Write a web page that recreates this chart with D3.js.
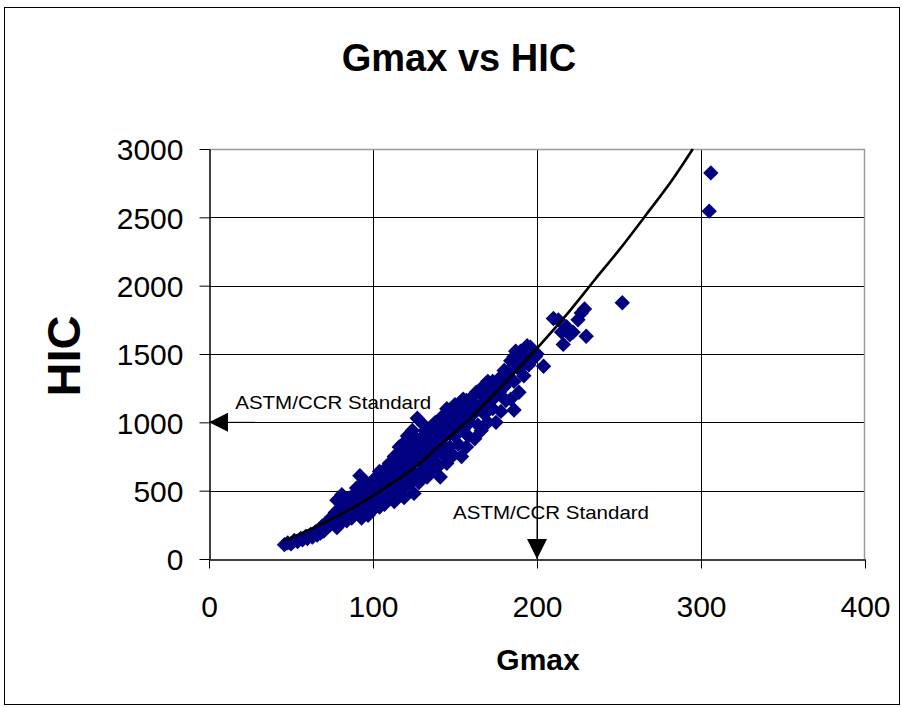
<!DOCTYPE html>
<html>
<head>
<meta charset="utf-8">
<script src="https://cdn.jsdelivr.net/npm/d3@7"></script>
<style>
  body { margin: 0; background: #fff; }
  text { font-family: Arial, "Liberation Sans", sans-serif; }
</style>
</head>
<body>
<div id="chart"></div>
<script>
// axis ticks
const X_TICKS = [0, 100, 200, 300, 400];
const Y_TICKS = [0, 500, 1000, 1500, 2000, 2500, 3000];

// test results: [Gmax, HIC]
const TESTS = [
  [46,105],[48,118],[50,112],[52,135],[54,128],[56,150],[57,140],[59,165],[60,150],[62,180],
  [63,160],[65,200],[66,175],[67,215],[68,190],[69,240],[70,205],[71,260],[72,230],[73,280],
  [74,250],[75,310],[76,270],[77,340],[78,230],[78,430],[79,300],[80,360],[80,260],[81,470],
  [82,330],[83,390],[84,280],[84,440],[85,350],[86,410],[87,300],[88,470],[88,380],[89,330],
  [90,520],[90,420],[91,360],[92,610],[92,460],[93,300],[94,400],[94,500],[95,350],[96,560],
  [96,450],[97,320],[98,480],[99,400],[100,530],[100,360],[101,460],[102,600],[103,420],[104,380],
  [105,520],[106,470],[106,640],[107,400],[108,560],[109,480],[110,700],[110,440],[111,600],[112,520],
  [113,750],[113,420],[114,650],[115,560],[116,480],[116,820],[117,700],[118,600],[119,450],[120,760],
  [120,530],[121,900],[122,650],[123,560],[124,940],[124,700],[125,480],[126,800],[126,620],[127,1030],
  [128,720],[128,560],[129,880],[130,650],[130,780],[131,980],[132,700],[133,600],[133,860],[134,760],
  [135,920],[136,650],[136,820],[137,720],[138,1000],[138,880],[139,780],[140,680],[140,940],[141,600],
  [141,840],[142,1040],[143,760],[144,900],[145,700],[145,1100],[146,980],[147,820],[148,1060],[149,760],
  [150,900],[150,1130],[151,980],[152,840],[153,1060],[154,750],[155,1170],[155,950],[156,1040],[157,820],
  [158,1120],[158,900],[159,1000],[160,1180],[161,1060],[162,880],[163,1220],[164,980],[165,1120],[166,940],
  [167,1260],[168,1060],[169,1180],[170,1300],[170,1000],[171,1120],[172,1240],[173,1100],[174,1180],[175,1000],
  [176,1300],[177,1220],[178,1080],[179,1340],[180,1260],[181,1160],[183,1380],[184,1170],[185,1440],[186,1090],
  [186,1300],[187,1520],[188,1400],[189,1220],[190,1520],[191,1460],[192,1340],[194,1560],[195,1420],[198,1520],
  [199,1480],[204,1410],[213,1750],[216,1570],[218,1700],[220,1640],[222,1660],[227,1800],[229,1830],[230,1630],
  [252,1875],[305,2545],[306,2825],
  [64,185],[70,240],[74,290],[76,300],[79,350],[82,400],[85,430],[86,380],[89,450],[91,500],
  [93,540],[95,470],[97,520],[99,560],[101,520],[103,570],[104,640],[107,600],[109,650],[111,680],
  [112,580],[114,720],[115,640],[117,780],[118,840],[119,700],[121,800],[122,860],[123,740],[125,900],
  [127,860],[129,760],[131,820],[132,940],[134,880],[135,800],[137,960],[139,900],[142,880],[143,980],
  [144,820],[146,1060],[147,920],[149,1000],[151,1100],[152,1020],[154,1120],[156,1100],[157,1160],[159,1080],
  [161,1140],[162,1200],[164,1100],[166,1220],[168,1180],[169,1280],[171,1200],[173,1300],[175,1260],[177,1320],
  [180,1380],[182,1300],[184,1450],[186,1480],[188,1500],[190,1400],[193,1480],[196,1550],[200,1500],[210,1760],
  [215,1660],[225,1750]
];

// trend line
const TREND_GMAX = [45, 60, 80, 96, 110, 125, 141, 160, 177, 200, 220, 235, 250, 267, 282, 295];
const TREND_HIC  = [127, 207, 325, 432, 542, 666, 835, 1036, 1245, 1542, 1816, 2040, 2260, 2526, 2766, 3000];

// the two standards
const STD_HIC = 1000, STD_GMAX = 200;
const STD_LABEL = "ASTM/CCR Standard";

var width = 902,
    height = 707;

var svg = d3.select("#chart").append("svg")
  .attr("width", width)
  .attr("height", height);

svg.append("rect")
  .attr("x", 4.5).attr("y", 7.5)
  .attr("width", 895).attr("height", 697)
  .attr("fill", "#fff")
  .attr("stroke", "#000");

const x = d3.scaleLinear().domain([0, 400]).range([209, 865]);
const y = d3.scaleLinear().domain([0, 3000]).range([559, 149]);

// grid
svg.append("g").selectAll("line")
  .data(Y_TICKS.slice(1, -1))
  .join("line")
    .attr("x1", x(0)).attr("x2", x(400))
    .attr("y1", d => Math.round(y(d)) + 0.5).attr("y2", d => Math.round(y(d)) + 0.5)
    .attr("stroke", "#000");
svg.append("g").selectAll("line")
  .data(X_TICKS.slice(1, -1))
  .join("line")
    .attr("y1", y(0)).attr("y2", y(3000))
    .attr("x1", d => Math.round(x(d)) + 0.5).attr("x2", d => Math.round(x(d)) + 0.5)
    .attr("stroke", "#000");

// plot border (grey top and right)
svg.append("path")
  .attr("d", `M${x(0)},${y(3000) + 0.5}H${x(400) - 0.5}V${y(0)}`)
  .attr("fill", "none")
  .attr("stroke", "#9a9a9a")
  .attr("stroke-width", 1.5);

// points
const diamond = d3.symbol(d3.symbolSquare, 118);
svg.append("g").selectAll("path")
  .data(TESTS)
  .join("path")
    .attr("d", diamond)
    .attr("transform", d => "translate(" + x(d[0]) + "," + y(d[1]) + ") rotate(45)")
    .attr("fill", "#000080");

// trend line
const trend = TREND_GMAX.map((g, i) => [g, TREND_HIC[i]]);
svg.append("path")
  .datum(trend)
  .attr("d", d3.line().x(d => x(d[0])).y(d => y(d[1])).curve(d3.curveCatmullRom))
  .attr("fill", "none")
  .attr("stroke", "#000")
  .attr("stroke-width", 2.6);

// axes
var xAxis = svg.append("g")
  .attr("transform", "translate(0," + (y(0) + 0.5) + ")")
  .call(d3.axisBottom(x).tickValues(X_TICKS).tickSize(9).tickSizeOuter(0).tickFormat(d3.format("d")));
var yAxis = svg.append("g")
  .attr("transform", "translate(" + (x(0) + 0.5) + ",0)")
  .call(d3.axisLeft(y).tickValues(Y_TICKS).tickSize(10).tickSizeOuter(0).tickFormat(d3.format("d")));

[xAxis, yAxis].forEach(a => {
  a.select(".domain").attr("stroke", "#000").attr("stroke-width", 1.5);
  a.selectAll(".tick line").attr("stroke", "#000");
  a.selectAll(".tick text")
    .attr("font-family", "Arial, 'Liberation Sans', sans-serif")
    .attr("font-size", 30)
    .attr("fill", "#000");
});
xAxis.selectAll(".tick text").attr("y", 57).attr("dy", 0);
yAxis.selectAll(".tick text").attr("x", -26).attr("dy", "0.36em");

// standards: arrows and labels
svg.append("line")
  .attr("x1", x(0)).attr("x2", x(28))
  .attr("y1", y(STD_HIC)).attr("y2", y(STD_HIC))
  .attr("stroke", "#000");
svg.append("path")
  .attr("d", `M${x(0)},${y(STD_HIC)}l19,-9.5v19z`)
  .attr("fill", "#000");

svg.append("line")
  .attr("x1", x(STD_GMAX)).attr("x2", x(STD_GMAX))
  .attr("y1", y(500)).attr("y2", y(0))
  .attr("stroke", "#000");
svg.append("path")
  .attr("d", `M${x(STD_GMAX)},${y(0)}l-10,-20h20z`)
  .attr("fill", "#000");

svg.append("text")
  .attr("x", x(16)).attr("y", y(1098))
  .attr("font-size", 18.5)
  .attr("textLength", 196).attr("lengthAdjust", "spacingAndGlyphs")
  .text(STD_LABEL);
svg.append("text")
  .attr("x", x(148.8)).attr("y", y(293))
  .attr("font-size", 18.5)
  .attr("textLength", 196).attr("lengthAdjust", "spacingAndGlyphs")
  .text(STD_LABEL);

// titles
svg.append("text")
  .attr("x", 459).attr("y", 71)
  .attr("text-anchor", "middle")
  .attr("font-size", 38).attr("font-weight", "bold")
  .text("Gmax vs HIC");
svg.append("text")
  .attr("x", 538).attr("y", 670)
  .attr("text-anchor", "middle")
  .attr("font-size", 30).attr("font-weight", "bold")
  .text("Gmax");
svg.append("text")
  .attr("transform", "translate(80,356) rotate(-90)")
  .attr("text-anchor", "middle")
  .attr("font-size", 47).attr("font-weight", "bold")
  .text("HIC");
</script>
</body>
</html>
